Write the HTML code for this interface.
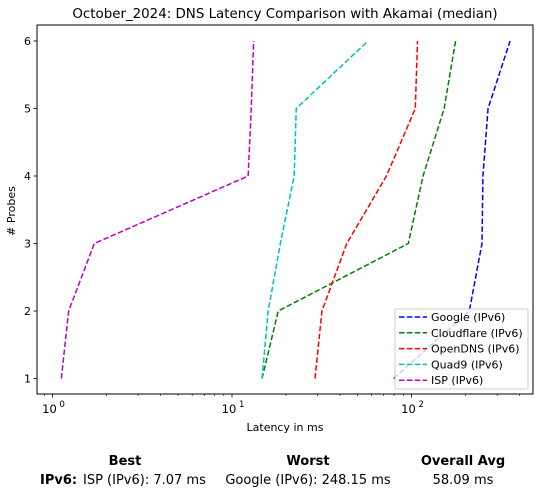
<!DOCTYPE html>
<html><head><meta charset="utf-8"><style>
body{margin:0;background:#fff;width:541px;height:496px;overflow:hidden;font-family:"DejaVu Sans","Liberation Sans",sans-serif;}
svg text{font-family:"DejaVu Sans","Liberation Sans",sans-serif;}
</style></head><body>
<svg id="chart" width="541" height="496" xmlns="http://www.w3.org/2000/svg">
<text x="285" y="18" font-size="13.4" text-anchor="middle">October_2024: DNS Latency Comparison with Akamai (median)</text>
<g id="plot"></g>
<text x="285" y="431" font-size="11" text-anchor="middle">Latency in ms</text>
<text x="15" y="211" font-size="11" text-anchor="middle" transform="rotate(-90 15 211)"># Probes</text>
<g font-size="13">
<text x="125" y="465" font-weight="bold" text-anchor="middle">Best</text>
<text x="308" y="465" font-weight="bold" text-anchor="middle">Worst</text>
<text x="463" y="465" font-weight="bold" text-anchor="middle">Overall Avg</text>
<text x="40" y="484" font-weight="bold">IPv6:</text>
<text x="83" y="484">ISP (IPv6): 7.07 ms</text>
<text x="308" y="484" text-anchor="middle">Google (IPv6): 248.15 ms</text>
<text x="463" y="484" text-anchor="middle">58.09 ms</text>
</g>
</svg>
<script>
const probes=[1,2,3,4,5,6];
const seriesNames=["Google (IPv6)","Cloudflare (IPv6)","OpenDNS (IPv6)","Quad9 (IPv6)","ISP (IPv6)"];
const google=[79.5,210,247,250,267,354];
const cloudflare=[14.7,18.1,96,116,152,176];
const opendns=[29,31.7,43.6,72.5,105,108];
const quad9=[14.7,15.9,18.6,22.2,22.8,57.2];
const isp=[1.12,1.23,1.71,12.3,12.8,13.2];
const xTickLabels=["0","1","2"];
const yTickLabels=[1,2,3,4,5,6];
const colors=["#0000ff","#008000","#ff0000","#00bfbf","#bf00bf"];
const NS="http://www.w3.org/2000/svg";
const L=37,R=533,T=25,B=394;
const xs=v=>52.5+179.5*Math.log10(v);
const ys=v=>378.5-67.5*(v-1);
const g=document.getElementById('plot');
function mk(t,a,p){const e=document.createElementNS(NS,t);for(const k in a)e.setAttribute(k,a[k]);(p||g).appendChild(e);return e;}
const all=[google,cloudflare,opendns,quad9,isp];
all.forEach((s,i)=>{
 const el=mk('polyline',{points:s.map((v,j)=>xs(v)+','+ys(probes[j])).join(' '),fill:'none',stroke:colors[i],'stroke-width':1.5,'stroke-dasharray':'5.5,2.4'});
 
 
});
const frame=mk('rect',{x:L,y:T,width:R-L,height:B-T,fill:'none',stroke:'#000','stroke-width':1});


for(let d=-1;d<=2;d++){for(let m=1;m<10;m++){const v=m*Math.pow(10,d);const x=xs(v);if(x<L||x>R)continue;
 mk('line',{x1:x,x2:x,y1:B,y2:B+(m==1?3.5:2),stroke:'#000','stroke-width':m==1?0.8:0.6});}}
xTickLabels.forEach(p=>{const x=xs(Math.pow(10,+p));
 const t=mk('text',{x:x-3,y:B+19,'font-size':11.5,'text-anchor':'middle'});t.textContent='10';
 
 
 const s=mk('text',{x:x+7,y:B+13,'font-size':8.5});s.textContent=p;});
yTickLabels.forEach(v=>{const y=ys(v);mk('line',{x1:L-3.5,x2:L,y1:y,y2:y,stroke:'#000','stroke-width':0.8});
 const t=mk('text',{x:L-6,y:y+4,'font-size':11,'text-anchor':'end'});t.textContent=v;
 
 });
const lg=mk('g',{});


mk('rect',{x:395,y:309,width:133,height:80,rx:2,fill:'#fff','fill-opacity':0.8,stroke:'#ccc'},lg);
seriesNames.forEach((n,i)=>{const y=317+i*15.8;
 mk('line',{x1:399,x2:427,y1:y,y2:y,stroke:colors[i],'stroke-width':1.5,'stroke-dasharray':'5.5,2.4'},lg);
 const t=mk('text',{x:431,y:y+4,'font-size':11},lg);t.textContent=n;
 
 });
</script>
</body></html>
